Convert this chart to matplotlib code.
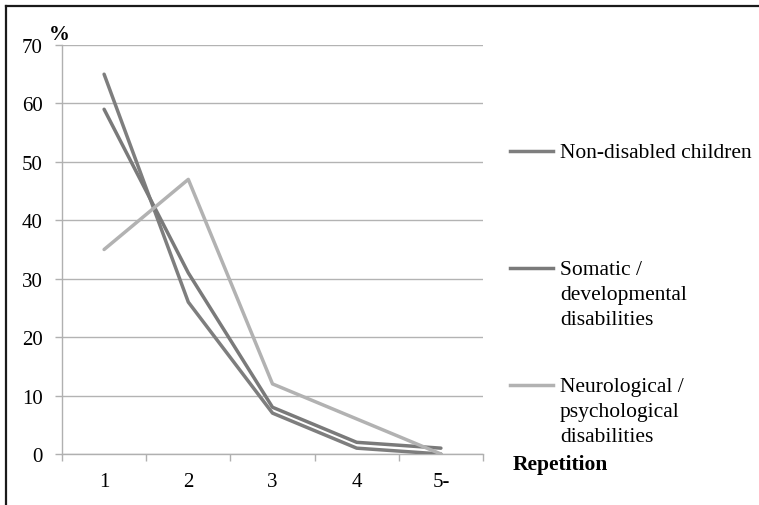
import matplotlib.pyplot as plt
from matplotlib.lines import Line2D

# data
repetition = ["1", "2", "3", "4", "5-"]
non_disabled = [65, 26, 7, 1, 0]
somatic = [59, 31, 8, 2, 1]
neuro = [35, 47, 12, 6, 0]
y_ticks = [0, 10, 20, 30, 40, 50, 60, 70]

series_names = ["Non-disabled children",
                "Somatic /\ndevelopmental\ndisabilities",
                "Neurological /\npsychological\ndisabilities"]
series_colors = ["#7e7e7e", "#7a7a7a", "#b2b2b2"]

plt.rcParams['font.family'] = ['Liberation Serif', 'DejaVu Serif']

fig = plt.figure(figsize=(7.59, 5.06), dpi=100)
ax = fig.add_axes([62 / 759, 51 / 506, 421 / 759, 409 / 506])

x = list(range(1, len(repetition) + 1))
for vals, col in zip([non_disabled, somatic, neuro], series_colors):
    ax.plot(x, vals, color=col, lw=2.5, solid_capstyle='round', zorder=3)

ax.set_xlim(0.5, len(repetition) + 0.5)
ax.set_ylim(0, 70)
ax.set_yticks(y_ticks)
ax.set_xticks(x)
ax.set_xticklabels(repetition)
ax.set_xticks([i + 0.5 for i in range(len(repetition) + 1)], minor=True)
ax.tick_params(axis='x', which='major', length=0, pad=13, labelsize=15)
ax.tick_params(axis='x', which='minor', length=5, color='#b0b0b0', width=1)
ax.tick_params(axis='y', length=5, color='#b0b0b0', width=1, pad=9, labelsize=15)
ax.grid(axis='y', color='#b3b3b3', lw=1)
ax.set_axisbelow(True)
for s in ['top', 'right']:
    ax.spines[s].set_visible(False)
for s in ['left', 'bottom']:
    ax.spines[s].set_color('#b0b0b0')
    ax.spines[s].set_linewidth(1)

fig.text(59 / 759, 1 - 35 / 506, "%", fontsize=15, fontweight='bold', ha='center', va='center')
fig.text(513 / 759, 1 - 465 / 506, "Repetition", fontsize=15.5, fontweight='bold',
         ha='left', va='center')

# legend, drawn by hand so the handle sits on the first text line
legend_y = [152, 269, 386]
for name, col, yy in zip(series_names, series_colors, legend_y):
    fy = 1 - yy / 506
    fig.add_artist(Line2D([510 / 759, 553 / 759], [fy, fy], color=col, lw=2.5,
                          transform=fig.transFigure))
    fig.text(560 / 759, fy + 8 / 506, name, fontsize=15.5, ha='left', va='top',
             linespacing=1.42)

# frame lines along top and left edge
fig.add_artist(Line2D([6 / 759, 1], [1 - 7 / 506, 1 - 7 / 506], color='#1a1a1a', lw=1.6,
                      transform=fig.transFigure))
fig.add_artist(Line2D([6 / 759, 6 / 759], [0, 1 - 7 / 506], color='#1a1a1a', lw=1.6,
                      transform=fig.transFigure))

fig.savefig("out.png", dpi=100)
